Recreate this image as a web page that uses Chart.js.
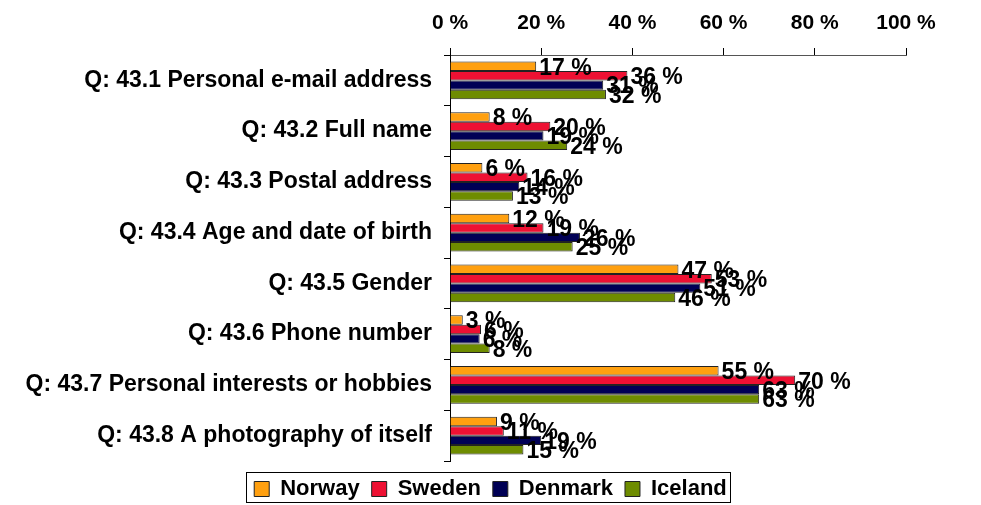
<!DOCTYPE html>
<html>
<head>
<meta charset="utf-8">
<script src="https://cdn.jsdelivr.net/npm/chart.js@4/dist/chart.umd.min.js"></script>
<style>
  body { margin: 0; background: #fff; }
  #wrap { width: 981px; height: 505px; position: relative; }
</style>
</head>
<body>
<div id="wrap"><canvas id="chart"></canvas></div>
<script>
const categories = [
  "Q: 43.1 Personal e-mail address",
  "Q: 43.2 Full name",
  "Q: 43.3 Postal address",
  "Q: 43.4 Age and date of birth",
  "Q: 43.5 Gender",
  "Q: 43.6 Phone number",
  "Q: 43.7 Personal interests or hobbies",
  "Q: 43.8 A photography of itself",
];

// bar lengths as drawn (in % of the axis)
const norway = [18.9, 8.7, 7.1, 13.0, 50.1, 2.8, 58.9, 10.3];
const sweden = [38.9, 22.0, 17.0, 20.5, 57.4, 6.8, 75.7, 11.8];
const denmark = [33.6, 20.5, 15.2, 28.5, 54.9, 6.5, 67.8, 20.0];
const iceland = [34.2, 25.7, 13.8, 26.9, 49.4, 8.7, 67.8, 16.1];

// value labels as printed next to the bars
const norwayLabels = ["17 %", "8 %", "6 %", "12 %", "47 %", "3 %", "55 %", "9 %"];
const swedenLabels = ["36 %", "20 %", "16 %", "19 %", "53 %", "6 %", "70 %", "11 %"];
const denmarkLabels = ["31 %", "19 %", "14 %", "26 %", "51 %", "6 %", "63 %", "19 %"];
const icelandLabels = ["32 %", "24 %", "13 %", "25 %", "46 %", "8 %", "63 %", "15 %"];

const xTicks = [0, 20, 40, 60, 80, 100];

const FONT = "'Liberation Sans', Arial, Helvetica, sans-serif";
const LEGEND_PAD = 12;

const valueLabels = {
  id: "valueLabels",
  afterDatasetsDraw(chart) {
    const ctx = chart.ctx;
    ctx.save();
    ctx.font = "bold 23px " + FONT;
    ctx.fillStyle = "#000";
    ctx.textBaseline = "middle";
    ctx.textAlign = "left";
    chart.data.datasets.forEach((ds, i) => {
      chart.getDatasetMeta(i).data.forEach((bar, j) => {
        ctx.fillText(ds.valueLabels[j], bar.x + 3, bar.y + 2);
      });
    });
    ctx.restore();
  },
};

// centre the legend on the whole canvas and frame it
const legendBox = {
  id: "legendBox",
  beforeDraw(chart) {
    const l = chart.legend;
    l.left = 0;
    l.right = chart.width;
    l.width = chart.width;
    l.top = 466;
    l.bottom = chart.height;
    l.height = l.bottom - l.top;
  },
  afterDraw(chart) {
    const l = chart.legend;
    const lw = l.lineWidths[0];
    const startX = (l.left + LEGEND_PAD + l.right - lw) / 2;
    const ctx = chart.ctx;
    ctx.save();
    ctx.strokeStyle = "#000";
    ctx.lineWidth = 1;
    const left = Math.round(startX) - 7.5;
    const right = Math.round(startX + lw - LEGEND_PAD) + 3.5;
    ctx.strokeRect(left, 472.5, right - left, 30);
    ctx.restore();
  },
};

function series(label, data, labels, color) {
  return {
    label,
    data,
    valueLabels: labels,
    backgroundColor: color,
    borderColor: "#222",
    borderWidth: 1,
    barPercentage: 1,
    categoryPercentage: 0.74,
  };
}

new Chart(document.getElementById("chart"), {
  type: "bar",
  data: {
    labels: categories,
    datasets: [
      series("Norway", norway, norwayLabels, "#FFA010"),
      series("Sweden", sweden, swedenLabels, "#EE1133"),
      series("Denmark", denmark, denmarkLabels, "#000055"),
      series("Iceland", iceland, icelandLabels, "#6E8C00"),
    ],
  },
  options: {
    indexAxis: "y",
    responsive: true,
    maintainAspectRatio: false,
    animation: false,
    layout: { padding: { top: 0, right: 75, left: 0, bottom: 0 } },
    scales: {
      x: {
        position: "top",
        min: 0,
        max: 100,
        afterBuildTicks: (axis) => { axis.ticks = xTicks.map((v) => ({ value: v })); },
        afterFit: (axis) => { axis.height = 55; },
        ticks: {
          callback: (v) => v + " %",
          color: "#000",
          font: { family: FONT, size: 21, weight: "bold" },
          padding: 12,
          maxRotation: 0,
        },
        grid: { drawOnChartArea: false, color: "#000", tickLength: 7 },
        border: { color: "#555", width: 1 },
      },
      y: {
        afterFit: (axis) => { axis.width = 450; },
        ticks: {
          color: "#000",
          font: { family: FONT, size: 23, weight: "bold" },
          padding: 12,
        },
        grid: { drawOnChartArea: false, color: "#000", tickLength: 6 },
        border: { color: "#000", width: 1 },
      },
    },
    plugins: {
      legend: {
        position: "bottom",
        labels: {
          color: "#000",
          font: { family: FONT, size: 22, weight: "bold" },
          boxWidth: 15,
          boxHeight: 15,
          padding: LEGEND_PAD,
        },
      },
      tooltip: { enabled: false },
    },
  },
  plugins: [valueLabels, legendBox],
});
</script>
</body>
</html>
